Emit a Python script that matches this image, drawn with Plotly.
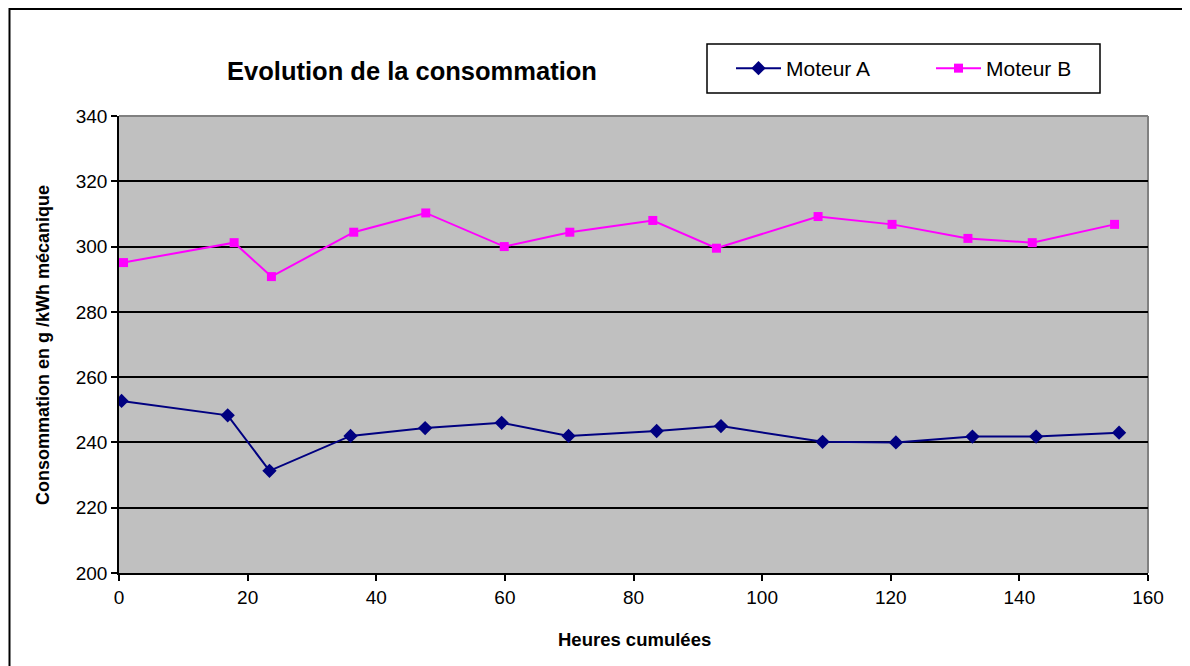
import plotly.graph_objects as go

# Data
heures_a = [0.4, 16.9, 23.4, 36.0, 47.6, 59.5, 69.9, 83.6, 93.6, 109.4, 120.8, 132.7, 142.6, 155.5]
moteur_a = [252.7, 248.3, 231.3, 242.0, 244.4, 246.0, 242.0, 243.5, 245.0, 240.2, 240.0, 241.8, 241.8, 243.0]
heures_b = [0.7, 17.9, 23.7, 36.5, 47.7, 59.9, 70.1, 83.0, 92.9, 108.7, 120.2, 132.0, 142.0, 154.8]
moteur_b = [295.1, 301.2, 290.8, 304.4, 310.3, 300.0, 304.4, 308.0, 299.5, 309.2, 306.8, 302.5, 301.2, 306.8]

x_ticks = [0, 20, 40, 60, 80, 100, 120, 140, 160]
y_ticks = [200, 220, 240, 260, 280, 300, 320, 340]

title_text = "Evolution de la consommation"
x_title = "Heures cumulées"
y_title = "Consommation en g /kWh mécanique"

FONT = "Liberation Sans, Arial, sans-serif"
# page has an 8px body margin; size the figure so it fits the window exactly
OX, OY = 8, 8
W, H = 1190 - OX, 666 - OY
# target plot area in page pixels: x 119..1148, y 116..573
L, R, T, B = 119 - OX, 1190 - 1148, 116 - OY, 666 - 573
PW, PH = W - L - R, H - T - B

def px(page_x):
    return (page_x - OX - L) / PW

def py(page_y):
    return (H - B - (page_y - OY)) / PH

fig = go.Figure()
fig.add_trace(go.Scatter(
    x=heures_a, y=moteur_a, name="Moteur A", mode="lines+markers",
    line=dict(color="#000080", width=2),
    marker=dict(symbol="diamond", size=11, color="#000080"),
))
fig.add_trace(go.Scatter(
    x=heures_b, y=moteur_b, name="Moteur B", mode="lines+markers",
    line=dict(color="#FF00FF", width=2),
    marker=dict(symbol="square", size=9, color="#FF00FF"),
))

shapes = [
    # outer frame
    dict(type="rect", xref="paper", yref="paper", x0=px(9.5), x1=px(1210), y0=py(690), y1=py(9),
         line=dict(color="black", width=2), fillcolor="rgba(0,0,0,0)", layer="below"),
    # gray plot border top and right
    dict(type="line", xref="paper", yref="paper", x0=0, x1=1, y0=1, y1=1,
         line=dict(color="#808080", width=2), layer="below"),
    dict(type="line", xref="paper", yref="paper", x0=1, x1=1, y0=0, y1=1,
         line=dict(color="#808080", width=2), layer="below"),
    # legend box
    dict(type="rect", xref="paper", yref="paper", x0=px(707), x1=px(1100), y0=py(93), y1=py(44),
         line=dict(color="black", width=1.5), fillcolor="white", layer="below"),
]

fig.update_layout(
    width=W, height=H,
    margin=dict(l=L, r=R, t=T, b=B, autoexpand=False),
    paper_bgcolor="white",
    plot_bgcolor="#C0C0C0",
    font=dict(family=FONT, color="black"),
    showlegend=True,
    legend=dict(
        orientation="h", x=px(731), y=py(68.5), xanchor="left", yanchor="middle",
        bgcolor="rgba(0,0,0,0)", borderwidth=0,
        font=dict(size=21, family=FONT), itemwidth=45,
        entrywidth=140, entrywidthmode="pixels",
    ),
    title=dict(text="<b>" + title_text + "</b>", x=(412 - OX) / W, xanchor="center",
               y=1 - (71 - OY) / H, yanchor="middle", xref="container", yref="container",
               font=dict(size=25.5, family=FONT)),
    xaxis=dict(
        range=[0, 160], tickvals=x_ticks, ticktext=[str(v) for v in x_ticks],
        showgrid=False, zeroline=False, showline=True, linecolor="black", linewidth=1.5,
        ticks="outside", ticklen=6, tickwidth=1.5, tickcolor="black",
        tickfont=dict(size=19, family=FONT), automargin=False,
    ),
    yaxis=dict(
        range=[200, 340], tickvals=y_ticks, ticktext=[str(v) for v in y_ticks],
        showgrid=True, gridcolor="black", gridwidth=1.5, zeroline=False,
        showline=True, linecolor="black", linewidth=1.5,
        ticks="outside", ticklen=6, tickwidth=1.5, tickcolor="black",
        tickfont=dict(size=19, family=FONT), automargin=False,
    ),
    shapes=shapes,
    annotations=[
        dict(text="<b>" + x_title + "</b>", xref="paper", yref="paper",
             x=px(634), y=py(639), xanchor="center", yanchor="middle", showarrow=False,
             font=dict(size=18.5, family=FONT)),
        dict(text="<b>" + y_title + "</b>", xref="paper", yref="paper",
             x=px(43), y=py(345), xanchor="center", yanchor="middle", showarrow=False,
             textangle=-90, font=dict(size=18, family=FONT)),
    ],
)

fig.write_html("out.html")
